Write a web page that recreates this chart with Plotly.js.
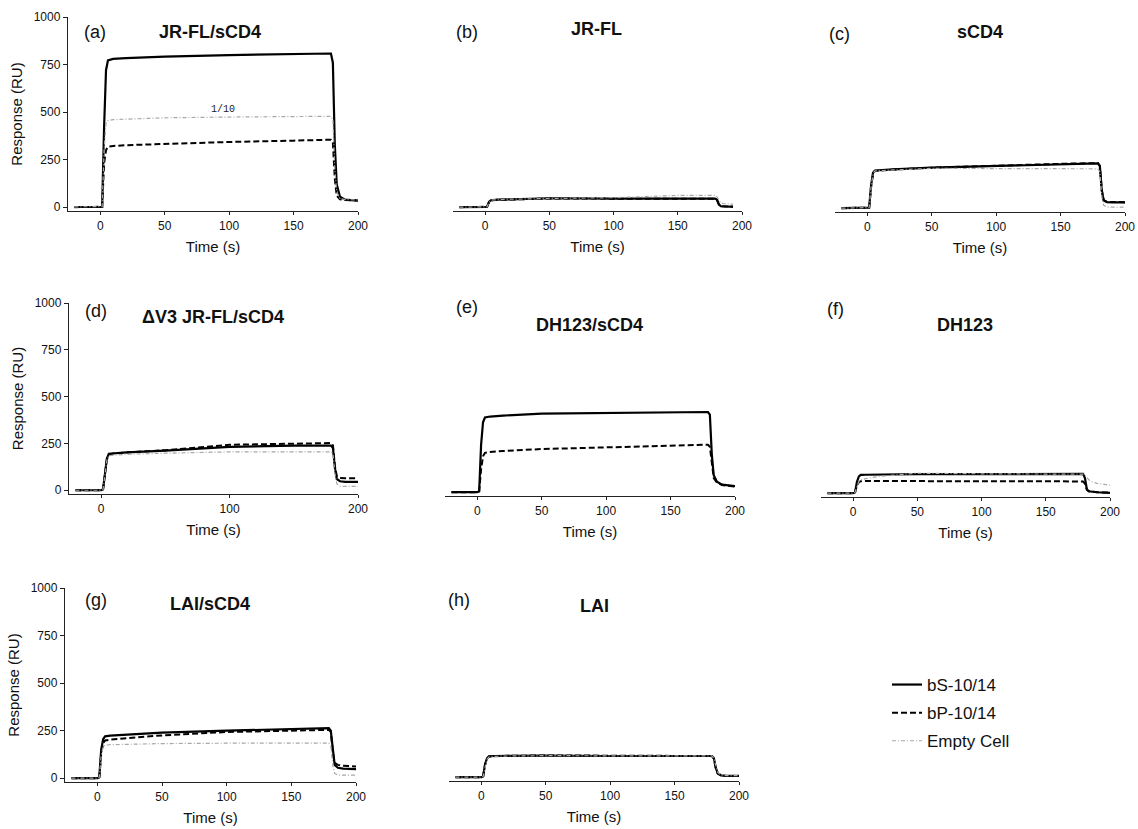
<!DOCTYPE html>
<html>
<head>
<meta charset="utf-8">
<script src="https://cdn.plot.ly/plotly-3.0.1.min.js"></script>
<style>html,body{margin:0;padding:0;background:#fff;}#chart{width:1138px;height:829px;}</style>
</head>
<body>
<div id="chart"></div>
<script>
// ---- data ----
const seriesNames = ["bS-10/14", "bP-10/14", "Empty Cell"];
const panelLetters = ["(a)", "(b)", "(c)", "(d)", "(e)", "(f)", "(g)", "(h)"];
const panelTitles = ["JR-FL/sCD4", "JR-FL", "sCD4", "\u0394V3 JR-FL/sCD4", "DH123/sCD4", "DH123", "LAI/sCD4", "LAI"];
const yTicks = [0, 250, 500, 750, 1000];
const xTicks = [0, 50, 100, 150, 200];
const xTicksD = [0, 100, 200];

const tCommon = [-20, 0, 1.5, 3, 4.5, 6, 10, 20, 50, 100, 150, 179, 180.5, 182, 183.5, 186, 190, 200];
const tB      = [-20, 0, 1.5, 3, 4.5, 6, 10, 20, 50, 100, 150, 179, 180.5, 182, 183.5, 186, 190, 193];

// (a) JR-FL/sCD4
const aSolid = [1, 1, 2, 420, 720, 772, 780, 784, 792, 800, 805, 808, 760, 330, 120, 55, 40, 35];
const aDash  = [0, 0, 2, 230, 300, 318, 322, 326, 333, 343, 350, 355, 340, 150, 60, 42, 38, 36];
const aEmpty = [2, 2, 3, 300, 440, 455, 460, 463, 470, 474, 476, 478, 460, 200, 80, 45, 40, 38];
// (b) JR-FL
const bSolid = [0, 0, 2, 28, 36, 38, 40, 41, 47, 45, 45, 45, 40, 15, 5, 3, 3, 3];
const bDash  = [0, 0, 2, 25, 34, 37, 39, 40, 46, 45, 44, 44, 38, 14, 5, 3, 3, 3];
const bEmpty = [0, 0, 2, 25, 35, 38, 40, 42, 46, 50, 62, 62, 55, 35, 22, 18, 17, 16];
// (c) sCD4
const cSolid = [0, 0, 3, 120, 185, 197, 199, 203, 212, 222, 230, 234, 220, 90, 40, 32, 30, 30];
const cDash  = [0, 0, 3, 110, 180, 195, 198, 202, 212, 223, 232, 236, 222, 95, 42, 33, 32, 31];
const cEmpty = [0, 0, 3, 110, 180, 195, 197, 200, 208, 206, 206, 206, 190, 60, 15, 6, 5, 5];
// (d) dV3 JR-FL/sCD4
const dSolid = [0, 0, 5, 100, 170, 195, 198, 202, 212, 232, 238, 238, 225, 120, 60, 48, 45, 45];
const dDash  = [0, 0, 5, 95, 165, 192, 197, 202, 214, 243, 250, 252, 240, 130, 75, 65, 64, 64];
const dEmpty = [0, 0, 5, 90, 160, 185, 188, 192, 198, 205, 205, 205, 195, 90, 35, 22, 21, 21];
// (e) DH123/sCD4
const eSolid = [0, 0, 5, 250, 370, 395, 400, 405, 415, 420, 423, 424, 410, 200, 90, 55, 40, 32];
const eDash  = [0, 0, 5, 120, 190, 208, 212, 218, 228, 238, 246, 251, 240, 150, 75, 50, 38, 30];
// (f) DH123
const fSolid = [0, 0, 5, 60, 88, 96, 97, 98, 100, 100, 101, 102, 80, 20, 10, 8, 5, 2];
const fDash  = [0, 0, 5, 40, 58, 63, 64, 64, 63, 62, 62, 62, 50, 18, 10, 8, 5, 3];
const fEmpty = [0, 0, 5, 40, 62, 70, 77, 88, 105, 102, 100, 100, 95, 80, 70, 60, 52, 42];
// (g) LAI/sCD4
const gSolid = [0, 0, 5, 150, 205, 220, 224, 228, 240, 250, 258, 263, 250, 140, 70, 55, 50, 48];
const gDash  = [0, 0, 5, 130, 185, 198, 203, 208, 225, 243, 250, 254, 245, 140, 80, 70, 65, 62];
const gEmpty = [0, 0, 5, 120, 165, 174, 176, 178, 182, 184, 184, 184, 170, 70, 25, 17, 16, 16];
// (h) LAI
const hSolid = [0, 0, 5, 70, 100, 110, 112, 113, 114, 112, 112, 112, 100, 50, 20, 10, 7, 7];
const hDash  = [0, 0, 5, 65, 98, 109, 111, 113, 115, 113, 112, 112, 98, 48, 20, 10, 7, 6];
const hEmpty = [0, 0, 5, 60, 95, 107, 110, 112, 114, 113, 113, 113, 100, 55, 25, 12, 8, 8];

// ---- layout geometry (pixels) ----
const W = 1138, H = 829;
const FONT = "Liberation Sans, Arial, Helvetica, sans-serif";
// [left, right, top, bottom] of each plot area
const boxes = [
  [68, 358, 17, 211], [453, 742, 17, 211], [835, 1125, 17, 212],
  [69, 358, 303, 494], [445, 735, 303, 496], [821, 1110, 303, 497],
  [65, 356, 588, 782], [449, 739, 588, 781]
];
const labelPos = [[95, 32], [467, 32], [839, 34], [96, 311], [467, 307], [835, 309], [96, 600], [459, 600]];
const titlePos = [[210, 32], [596, 29], [980, 32], [213, 317], [589, 325], [965, 325], [210, 604], [595, 606]];

const panels = [
  {t: tCommon, s: aSolid, d: aDash, e: aEmpty},
  {t: tB, s: bSolid, d: bDash, e: bEmpty},
  {t: tCommon, s: cSolid, d: cDash, e: cEmpty},
  {t: tCommon, s: dSolid, d: dDash, e: dEmpty},
  {t: tCommon, s: eSolid, d: eDash, e: null},
  {t: tCommon, s: fSolid, d: fDash, e: fEmpty},
  {t: tCommon, s: gSolid, d: gDash, e: gEmpty},
  {t: tCommon, s: hSolid, d: hDash, e: hEmpty}
];

const styles = [
  {color: "#000000", width: 2.2, dash: "solid"},
  {color: "#000000", width: 2, dash: "6px,3px"},
  {color: "#a8a8a8", width: 1.2, dash: "4px,2px,1px,2px"}
];

const traces = [];
const layout = {
  width: W, height: H,
  margin: {l: 0, r: 0, t: 0, b: 0},
  paper_bgcolor: "#ffffff", plot_bgcolor: "rgba(0,0,0,0)",
  font: {family: FONT, color: "#111"},
  showlegend: true,
  legend: {
    x: 887 / W, y: 1 - 667 / H, xanchor: "left", yanchor: "top",
    font: {family: FONT, size: 17, color: "#111"},
    traceorder: "grouped", tracegroupgap: 3,
    bgcolor: "rgba(0,0,0,0)", borderwidth: 0
  },
  annotations: []
};

panels.forEach((p, i) => {
  const n = i + 1;
  const xa = n === 1 ? "x" : "x" + n;
  const ya = n === 1 ? "y" : "y" + n;
  const series = [p.s, p.d, p.e];
  series.forEach((vals, k) => {
    if (!vals) return;
    traces.push({
      type: "scatter", mode: "lines",
      x: p.t, y: vals,
      xaxis: xa, yaxis: ya,
      name: seriesNames[k],
      legendgroup: "g" + k,
      showlegend: i === 0,
      line: {color: styles[k].color, width: styles[k].width, dash: styles[k].dash, shape: "linear"},
      hoverinfo: "skip"
    });
  });
  const b = boxes[i];
  const col = i % 3;
  layout["xaxis" + (n === 1 ? "" : n)] = {
    domain: [b[0] / W, b[1] / W],
    anchor: ya,
    range: [-25, 200],
    tickvals: i === 3 ? xTicksD : xTicks,
    ticks: "outside", ticklen: 3, tickwidth: 1, tickcolor: "#222",
    showline: true, linecolor: "#222", linewidth: 1.2,
    showgrid: false, zeroline: false,
    tickfont: {family: FONT, size: 12, color: "#111"},
    title: {text: "Time (s)", font: {family: FONT, size: 15, color: "#111"}, standoff: 10},
    automargin: false, fixedrange: true
  };
  layout["yaxis" + (n === 1 ? "" : n)] = {
    domain: [1 - b[3] / H, 1 - b[2] / H],
    anchor: xa,
    range: [-20, 1000],
    visible: col === 0,
    tickvals: yTicks,
    ticks: "outside", ticklen: 4, tickwidth: 1, tickcolor: "#222",
    showline: true, linecolor: "#222", linewidth: 1.2,
    showgrid: false, zeroline: false,
    tickfont: {family: FONT, size: 12, color: "#111"},
    title: {text: col === 0 ? "Response (RU)" : "", font: {family: FONT, size: 15, color: "#111"}, standoff: 7},
    automargin: false, fixedrange: true
  };
  layout.annotations.push({
    xref: "paper", yref: "paper", x: labelPos[i][0] / W, y: 1 - labelPos[i][1] / H,
    xanchor: "center", yanchor: "middle", showarrow: false,
    text: panelLetters[i], font: {family: FONT, size: 18, color: "#111"}
  });
  layout.annotations.push({
    xref: "paper", yref: "paper", x: titlePos[i][0] / W, y: 1 - titlePos[i][1] / H,
    xanchor: "center", yanchor: "middle", showarrow: false,
    text: "<b>" + panelTitles[i] + "</b>", font: {family: FONT, size: 18, color: "#111"}
  });
});

// "1/10" note on the empty-cell trace of panel (a)
layout.annotations.push({
  xref: "x", yref: "y", x: 95, y: 515, showarrow: false,
  xanchor: "center", yanchor: "middle",
  text: "1/10", font: {family: "Liberation Mono, DejaVu Sans Mono, monospace", size: 10, color: "#222"}
});

Plotly.newPlot("chart", traces, layout, {displayModeBar: false, staticPlot: true});
</script>
</body>
</html>
